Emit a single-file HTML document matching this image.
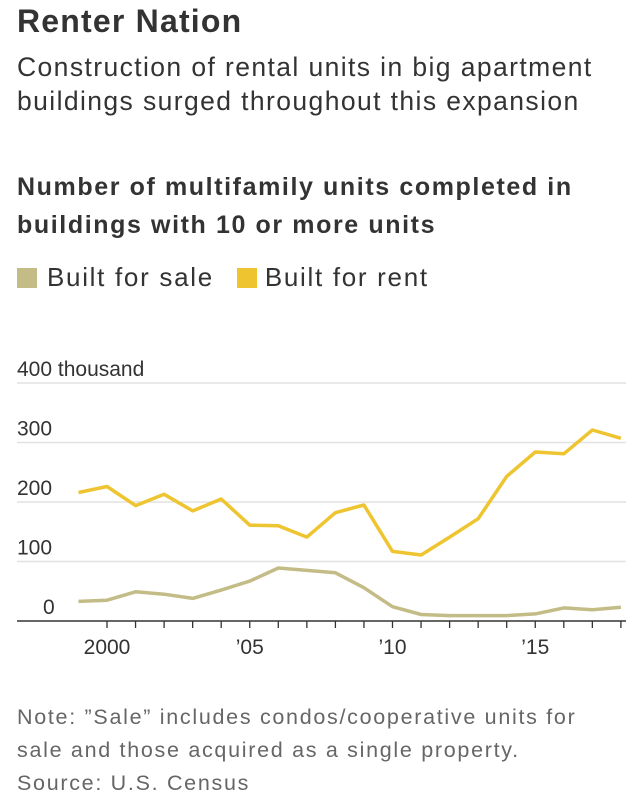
<!DOCTYPE html>
<html><head><meta charset="utf-8"><style>
body{margin:0;width:642px;height:812px;background:#fff;font-family:"Liberation Sans",sans-serif;color:#333;position:relative;overflow:hidden}
.t{position:absolute;left:17px;white-space:nowrap}
</style></head><body>
<div class="t" style="top:3px;font-size:32px;font-weight:bold;letter-spacing:1.2px">Renter Nation</div>
<div class="t" style="top:50px;font-size:26.5px;line-height:34px;letter-spacing:1.4px">Construction of rental units in big apartment<br>buildings surged throughout this expansion</div>
<div class="t" style="top:168px;font-size:25px;font-weight:bold;line-height:38px;letter-spacing:1.6px">Number of multifamily units completed in<br>buildings with 10 or more units</div>
<div class="t" style="top:262px;font-size:26px;letter-spacing:1.7px">
<span><span style="display:inline-block;width:20px;height:20px;background:#c4bc86;vertical-align:-2px;margin-right:10px"></span>Built for sale</span>
<span style="margin-left:14px"><span style="display:inline-block;width:20px;height:20px;background:#eec530;vertical-align:-2px;margin-right:8px"></span>Built for rent</span>
</div>
<svg id="chart" width="642" height="812" style="position:absolute;left:0;top:0" font-family="Liberation Sans, sans-serif"></svg>
<div class="t" style="top:701px;font-size:21.5px;line-height:33px;color:#666;letter-spacing:1.7px">Note: ”Sale” includes condos/cooperative units for<br>sale and those acquired as a single property.<br>Source: U.S. Census</div>
<script>
const years=[1999,2000,2001,2002,2003,2004,2005,2006,2007,2008,2009,2010,2011,2012,2013,2014,2015,2016,2017,2018];
const rentValues=[216,226,194,213,185,205,161,160,141,182,195,117,111,141,172,243,284,281,321,307];
const saleValues=[33,35,49,45,38,52,67,89,85,81,56,24,11,9,9,9,12,22,19,23];
const yTicks=[0,100,200,300,400];
const xTickLabels={2000:"2000",2005:"’05",2010:"’10",2015:"’15"};
const NS="http://www.w3.org/2000/svg";
const svg=document.getElementById('chart');
const x=v=>107+(v-2000)*28.55;
const y=v=>621-v*0.595;
function mk(t,a){const e=document.createElementNS(NS,t);for(const k in a)e.setAttribute(k,a[k]);svg.appendChild(e);return e;}
yTicks.forEach(v=>{
  if(v>0){const g=mk('line',{x1:17,x2:626,y1:y(v),y2:y(v),stroke:'#e2e2e2','stroke-width':1.5});
  
  }
  const t=mk('text',{x:v===0?43:17,y:y(v)-7,'font-size':21,fill:'#333'});
  t.textContent=v===400?'400 thousand':String(v);
  
  
});
const ax=mk('line',{x1:17,x2:626,y1:y(0),y2:y(0),stroke:'#333','stroke-width':1.5});


years.forEach(yr=>{
  if(yr===1999)return;
  const tk=mk('line',{x1:x(yr),x2:x(yr),y1:y(0),y2:y(0)+7,stroke:'#333','stroke-width':1.3});
  
  
  if(xTickLabels[yr]){const t=mk('text',{x:x(yr),y:y(0)+33,'font-size':21,fill:'#333','text-anchor':'middle'});
  t.textContent=xTickLabels[yr];
  
  }
});
function line(vals,col,name){
  const d=vals.map((v,i)=>(i?'L':'M')+x(years[i]).toFixed(1)+','+y(v).toFixed(1)).join('');
  const p=mk('path',{d:d,fill:'none',stroke:col,'stroke-width':3.5,'stroke-linejoin':'round'});
  
  
}
line(saleValues,'#c4bc86','sale-line');
line(rentValues,'#eec530','rent-line');
</script>
</body></html>
